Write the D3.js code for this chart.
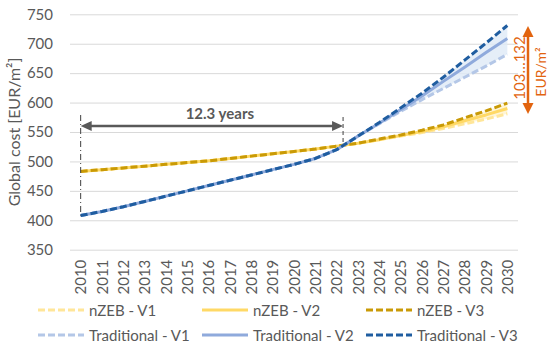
<!DOCTYPE html>
<html>
<head>
<meta charset="utf-8">
<script src="https://cdn.jsdelivr.net/npm/d3@7"></script>
<style>
  html, body { margin: 0; padding: 0; background: #fff; }
  svg { display: block; font-family: Lato, "Open Sans", sans-serif; }
</style>
</head>
<body>
<svg id="chart" width="550" height="345"></svg>
<script>
const years = [2010,2011,2012,2013,2014,2015,2016,2017,2018,2019,2020,2021,2022,2023,2024,2025,2026,2027,2028,2029,2030];
const yTicks = [350,400,450,500,550,600,650,700,750];

const nzebV1 = [483,486,489,492,495,498,501,505,509,513,517,521,526,531,537,543,549,556,564,572,581];
const nzebV2 = [483,486,489,492,495,498,501,505,509,513,517,521,526,531,537,544,551,559,569,579,590];
const nzebV3 = [483,486,489,492,495,498,501,505,509,513,517,521,526,531,538,545,553,562,574,586,599];
const tradV1 = [408,415,423,432,441,450,459,468,477,486,495,505,520,543,564,585,605,624,643,662,682];
const tradV2 = [408,415,423,432,441,450,459,468,477,486,495,505,520,543,565,588,611,636,660,685,709];
const tradV3 = [408,415,423,432,441,450,459,468,477,486,495,505,520,543,566,591,616,643,672,701,731];

const seriesNames = ["nZEB - V1","nZEB - V2","nZEB - V3","Traditional - V1","Traditional - V2","Traditional - V3"];
const seriesValues = [nzebV1, nzebV2, nzebV3, tradV1, tradV2, tradV3];
const seriesColors = ["#FFE699","#FFD966","#C99A06","#B4C7E7","#8FAADC","#1F5DA0"];
const seriesDash = ["7,3", null, "7,3", "7,3", null, "7,3"];

const paybackLabel = "12.3 years";
const paybackYear = 2022.3;
const rangeLabel = "103…132";
const rangeUnit = "EUR/m²";

(function () {
const svg = d3.select("#chart");
const pLeft = 70, pRight = 518, pTop = 14.3, pBottom = 249.7;
const fs = 15;

const x = d3.scalePoint().domain(years).range([pLeft, pRight]).padding(0.5);
const step = x.step();
const xc = v => x(years[0]) + (v - years[0]) * step;
const y = d3.scaleLinear().domain([350, 750]).range([pBottom, pTop]);

// gridlines
svg.append("g")
  .attr("transform", `translate(${pLeft},0)`)
  .call(d3.axisLeft(y).tickValues(yTicks).tickSize(-(pRight - pLeft)).tickFormat(""))
  .call(g => g.select(".domain").remove())
  .call(g => g.selectAll("line").attr("stroke", "#D9D9D9").attr("stroke-width", 1));

// y axis labels
svg.append("g")
  .attr("transform", `translate(${pLeft - 14},0)`)
  .call(d3.axisLeft(y).tickValues(yTicks).tickSize(0))
  .call(g => g.select(".domain").remove())
  .call(g => g.selectAll("text").attr("fill", "#595959").attr("font-size", fs).attr("font-family", "Lato, sans-serif"));

// x axis labels
svg.append("g")
  .attr("transform", `translate(0,${pBottom})`)
  .call(d3.axisBottom(x).tickSize(0))
  .call(g => g.select(".domain").remove())
  .call(g => g.selectAll("text")
    .attr("fill", "#595959").attr("font-size", fs).attr("font-family", "Lato, sans-serif")
    .attr("text-anchor", "end")
    .attr("transform", "rotate(-90)")
    .attr("x", -10).attr("y", 0).attr("dy", "0.35em"));

// y title
svg.append("text")
  .attr("transform", `translate(13,${(pTop + pBottom) / 2}) rotate(-90)`)
  .attr("text-anchor", "middle").attr("dominant-baseline", "central")
  .attr("fill", "#595959").attr("font-size", 16)
  .text("Global cost [EUR/m²]");

// shaded bands between V1 and V3
const band = d3.area().x((d, i) => x(years[i])).y0(d => y(d[0])).y1(d => y(d[1]));
svg.append("path").datum(nzebV1.map((v, i) => [v, nzebV3[i]]))
  .attr("d", band).attr("fill", "#FFF2CC").attr("opacity", 0.8);
svg.append("path").datum(tradV1.map((v, i) => [v, tradV3[i]]))
  .attr("d", band).attr("fill", "#DEEAF6").attr("opacity", 0.8);

// lines
const line = d3.line().x((d, i) => x(years[i])).y(d => y(d));
seriesValues.forEach((vals, k) => {
  svg.append("path").datum(vals)
    .attr("d", line).attr("fill", "none")
    .attr("stroke", seriesColors[k]).attr("stroke-width", 3)
    .attr("stroke-dasharray", seriesDash[k])
    .attr("stroke-linejoin", "round");
});

// payback annotation
const gray = "#595959";
const x0 = x(years[0]), x1 = xc(paybackYear);
const crossVal = 527;
svg.append("line").attr("x1", x0).attr("x2", x0).attr("y1", 115).attr("y2", y(tradV1[0]))
  .attr("stroke", "#404040").attr("stroke-width", 1).attr("stroke-dasharray", "6,3,1,3");
svg.append("line").attr("x1", x1).attr("x2", x1).attr("y1", 117).attr("y2", y(crossVal))
  .attr("stroke", "#404040").attr("stroke-width", 1).attr("stroke-dasharray", "4,3");
const ay = 126;
svg.append("line").attr("x1", x0 + 8).attr("x2", x1 - 8).attr("y1", ay).attr("y2", ay)
  .attr("stroke", gray).attr("stroke-width", 2.5);
svg.append("path").attr("d", `M${x0},${ay} L${x0 + 11},${ay - 5} L${x0 + 11},${ay + 5} Z`).attr("fill", gray);
svg.append("path").attr("d", `M${x1},${ay} L${x1 - 11},${ay - 5} L${x1 - 11},${ay + 5} Z`).attr("fill", gray);
svg.append("text").attr("x", (x0 + x1) / 2 + 8).attr("y", 113)
  .attr("text-anchor", "middle").attr("dominant-baseline", "central")
  .attr("fill", gray).attr("font-size", fs).attr("font-weight", "bold")
  .text(paybackLabel);

// range annotation (orange)
const orange = "#E2640F";
const ox = 528, oy0 = 26, oy1 = 114;
svg.append("line").attr("x1", ox).attr("x2", ox).attr("y1", oy0 + 8).attr("y2", oy1 - 8)
  .attr("stroke", orange).attr("stroke-width", 2.5);
svg.append("path").attr("d", `M${ox},${oy0} L${ox - 5.5},${oy0 + 11} L${ox + 5.5},${oy0 + 11} Z`).attr("fill", orange);
svg.append("path").attr("d", `M${ox},${oy1} L${ox - 5.5},${oy1 - 11} L${ox + 5.5},${oy1 - 11} Z`).attr("fill", orange);
svg.append("text").attr("transform", "translate(519,68) rotate(-90)")
  .attr("text-anchor", "middle").attr("dominant-baseline", "central")
  .attr("fill", orange).attr("font-size", fs).text(rangeLabel);
svg.append("text").attr("transform", "translate(540,72) rotate(-90)")
  .attr("text-anchor", "middle").attr("dominant-baseline", "central")
  .attr("fill", orange).attr("font-size", 14).text(rangeUnit);

// legend
const legendCols = [38, 202, 366];
const legendRows = [310, 335];
seriesNames.forEach((name, k) => {
  const cx = legendCols[k % 3], cy = legendRows[Math.floor(k / 3)];
  svg.append("line").attr("x1", cx).attr("x2", cx + 46).attr("y1", cy).attr("y2", cy)
    .attr("stroke", seriesColors[k]).attr("stroke-width", 3)
    .attr("stroke-dasharray", seriesDash[k]);
  svg.append("text").attr("x", cx + 51).attr("y", cy)
    .attr("dominant-baseline", "central")
    .attr("fill", "#595959").attr("font-size", fs).text(name);
});
})();
</script>
</body>
</html>
